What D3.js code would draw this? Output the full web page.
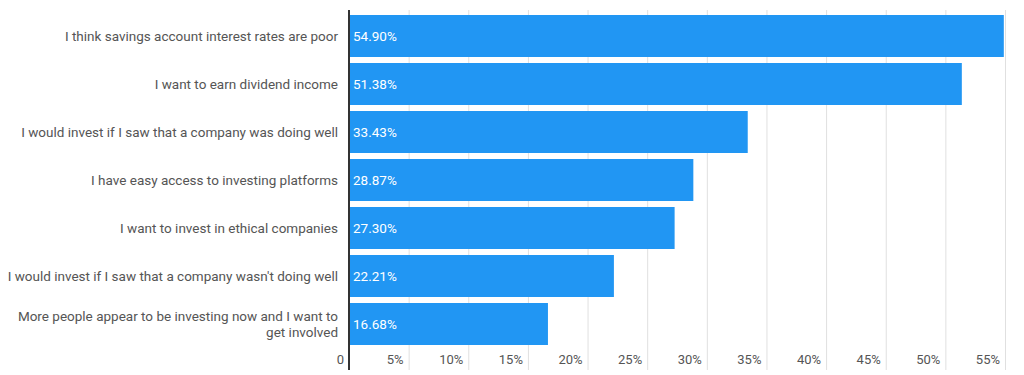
<!DOCTYPE html>
<html>
<head>
<meta charset="utf-8">
<script src="https://cdn.jsdelivr.net/npm/d3@7"></script>
<style>
  body { margin: 0; background: #fff; }
  svg { display: block; font-family: Roboto, sans-serif; }
</style>
</head>
<body>
<div id="chart"></div>
<script>
// Data
const categories = [
  "I think savings account interest rates are poor",
  "I want to earn dividend income",
  "I would invest if I saw that a company was doing well",
  "I have easy access to investing platforms",
  "I want to invest in ethical companies",
  "I would invest if I saw that a company wasn't doing well",
  "More people appear to be investing now and I want to\nget involved"
];
const values = [54.90, 51.38, 33.43, 28.87, 27.30, 22.21, 16.68];
const xTicks = [0, 5, 10, 15, 20, 25, 30, 35, 40, 45, 50, 55];

const width = 1024, height = 375;
const margin = {top: 12, right: 19, bottom: 27, left: 349};
const barColor = "#2196f3";

const data = categories.map((c, i) => ({category: c, value: values[i]}));

const x = d3.scaleLinear()
  .domain([0, 55])
  .range([margin.left, width - margin.right]);
const y = d3.scaleBand()
  .domain(categories)
  .range([margin.top, height - margin.bottom])
  .paddingInner(0.125)
  .paddingOuter(0.0625);

const svg = d3.select("#chart").append("svg")
  .attr("width", width)
  .attr("height", height);

// Gridlines + tick labels
const grid = svg.append("g");
grid.selectAll("line")
  .data(xTicks.slice(1))
  .join("line")
    .attr("x1", d => x(d) + 0.5)
    .attr("x2", d => x(d) + 0.5)
    .attr("y1", 10)
    .attr("y2", 370)
    .attr("stroke", "#e0e0e0")
    .attr("stroke-width", 1);
grid.selectAll("text")
  .data(xTicks)
  .join("text")
    .attr("x", d => x(d) - 5)
    .attr("y", 364)
    .attr("text-anchor", "end")
    .attr("fill", "#555")
    .attr("font-size", 13)
    .text(d => d === 0 ? "0" : d + "%");

// Bars
svg.append("g")
  .selectAll("rect")
  .data(data)
  .join("rect")
    .attr("x", x(0))
    .attr("y", d => y(d.category))
    .attr("width", d => x(d.value) - x(0))
    .attr("height", y.bandwidth())
    .attr("fill", barColor);

// Value labels
svg.append("g")
  .selectAll("text")
  .data(data)
  .join("text")
    .attr("x", x(0) + 4)
    .attr("y", d => y(d.category) + y.bandwidth() / 2)
    .attr("dy", "0.35em")
    .attr("fill", "#fff")
    .attr("font-size", 13.5)
    .text(d => d.value.toFixed(2) + "%");

// Category labels (right aligned, may wrap)
svg.append("g")
  .selectAll("text")
  .data(data)
  .join("text")
    .attr("text-anchor", "end")
    .attr("fill", "#555")
    .attr("font-size", 13.5)
    .each(function(d) {
      const lines = d.category.split("\n");
      const cy = y(d.category) + y.bandwidth() / 2;
      const lh = 16;
      d3.select(this).selectAll("tspan")
        .data(lines)
        .join("tspan")
          .attr("x", margin.left - 11)
          .attr("y", (l, i) => cy + (i - (lines.length - 1) / 2) * lh)
          .attr("dy", "0.35em")
          .text(l => l);
    });

// Zero axis line
svg.append("line")
  .attr("x1", x(0))
  .attr("x2", x(0))
  .attr("y1", 10)
  .attr("y2", 370)
  .attr("stroke", "#333")
  .attr("stroke-width", 2);
</script>
</body>
</html>
